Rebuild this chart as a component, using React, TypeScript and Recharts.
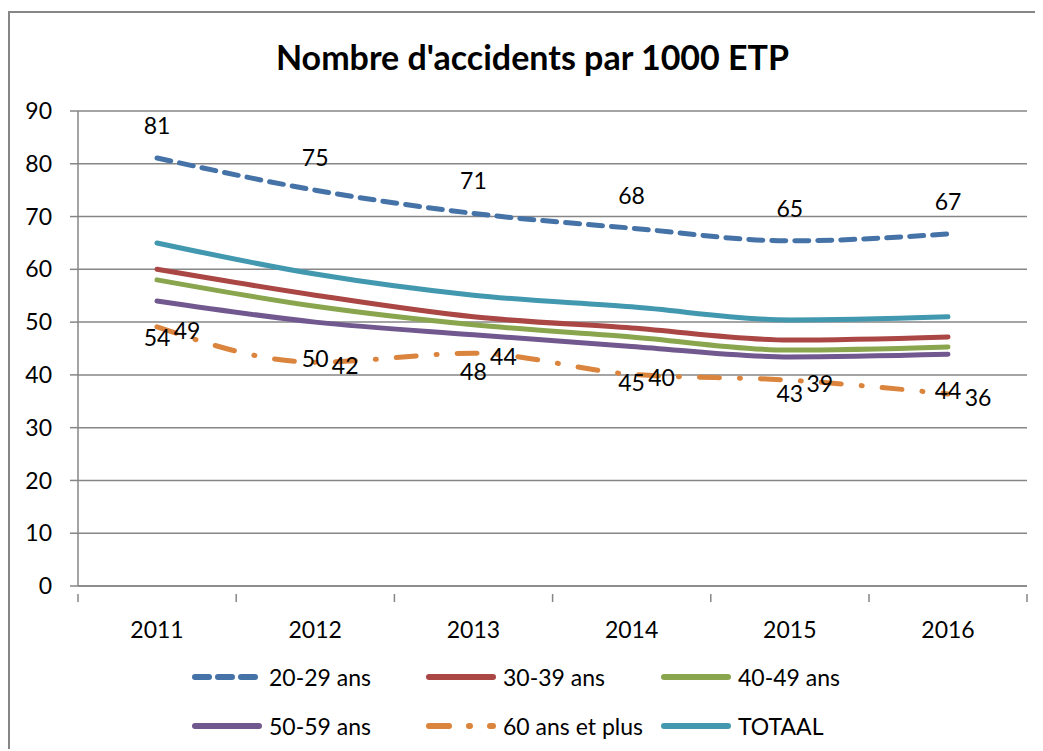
import React from "react";
import {
  LineChart,
  Line,
  XAxis,
  YAxis,
  CartesianGrid,
  LabelList,
} from "recharts";

const years = ["2011", "2012", "2013", "2014", "2015", "2016"];
const yTicks = [0, 10, 20, 30, 40, 50, 60, 70, 80, 90];

const ans2029 = [81.1, 75.0, 70.6, 67.8, 65.4, 66.7];
const ans3039 = [60.0, 55.1, 51.0, 48.9, 46.6, 47.2];
const ans4049 = [58.0, 53.0, 49.5, 47.2, 44.7, 45.3];
const ans5059 = [54.0, 50.0, 47.6, 45.4, 43.4, 43.9];
const ans60plus = [49.1, 42.4, 44.1, 40.1, 39.0, 36.4];
const totaal = [65.0, 59.1, 55.1, 52.9, 50.4, 51.0];

const series = [
  { key: "a2029", name: "20-29 ans", values: ans2029, color: "#4572A7", dash: "14 9", label: "top" },
  { key: "a3039", name: "30-39 ans", values: ans3039, color: "#AA4643", dash: undefined, label: null },
  { key: "a4049", name: "40-49 ans", values: ans4049, color: "#89A54E", dash: undefined, label: null },
  { key: "a5059", name: "50-59 ans", values: ans5059, color: "#71588F", dash: undefined, label: "bottom" },
  { key: "a60", name: "60 ans et plus", values: ans60plus, color: "#DB843D", dash: "20 20 1 20", label: "right" },
  { key: "tot", name: "TOTAAL", values: totaal, color: "#4198AF", dash: undefined, label: null },
];

const data = years.map((year, i) => {
  const row: Record<string, string | number> = { year };
  series.forEach((s) => {
    row[s.key] = s.values[i];
  });
  return row;
});

const FONT = "Lato, 'Open Sans', sans-serif";
const GRID = "#868686";
const BAND = 79;
const FS = 23;

const labelOffsets: Record<string, [number, number]> = {
  top: [0, -33],
  bottom: [0, 36],
  right: [30, 3],
};

const makeLabel = (pos: string) => (props: any) => {
  const { x, y, value } = props;
  const [dx, dy] = labelOffsets[pos];
  return (
    <text
      x={x + dx}
      y={y + dy}
      textAnchor="middle"
      dominantBaseline="central"
      fontFamily={FONT}
      fontSize={FS}
      fill="#000"
    >
      {Math.round(value)}
    </text>
  );
};

const YearTick = (props: any) => {
  const { x, y, payload, index } = props;
  return (
    <g>
      <line x1={x - BAND} y1={y} x2={x - BAND} y2={y + 8} stroke={GRID} strokeWidth={1.5} />
      {index === years.length - 1 && (
        <line x1={x + BAND} y1={y} x2={x + BAND} y2={y + 8} stroke={GRID} strokeWidth={1.5} />
      )}
      <text
        x={x}
        y={y + 35}
        textAnchor="middle"
        dominantBaseline="central"
        fontFamily={FONT}
        fontSize={FS}
        fill="#000"
      >
        {payload.value}
      </text>
    </g>
  );
};

const legendCols = [181, 415, 650];

export default function App() {
  return (
    <div style={{ paddingTop: 3 }}>
      <style>{`body{overflow:hidden}`}</style>
      <div
        style={{
          position: "relative",
          width: 1033,
          height: 736,
          borderTop: `2px solid ${GRID}`,
          borderLeft: `2px solid ${GRID}`,
          background: "#fff",
        }}
      >
        <div
          style={{
            position: "absolute",
            left: 0,
            width: 1045,
            top: 24,
            textAlign: "center",
            fontFamily: FONT,
            fontWeight: 700,
            fontSize: 34,
            lineHeight: "40px",
            color: "#000",
          }}
        >
          Nombre d'accidents par 1000 ETP
        </div>
        <LineChart
          width={1033}
          height={736}
          data={data}
          margin={{ top: 98, left: 8, right: 16, bottom: 123 }}
        >
          <CartesianGrid vertical={false} stroke={GRID} strokeWidth={1.5} />
          <XAxis
            dataKey="year"
            padding={{ left: BAND, right: BAND }}
            stroke={GRID}
            strokeWidth={1.5}
            tickLine={false}
            tick={<YearTick />}
            height={40}
            interval={0}
          />
          <YAxis
            domain={[0, 90]}
            ticks={yTicks}
            width={60}
            stroke={GRID}
            strokeWidth={1.5}
            tickSize={8}
            tickMargin={18}
            tick={{ fill: "#000", fontSize: FS, fontFamily: FONT }}
            interval={0}
          />
          {series.map((s) => (
            <Line
              key={s.key}
              type="monotone"
              dataKey={s.key}
              name={s.name}
              stroke={s.color}
              strokeWidth={5}
              strokeDasharray={s.dash}
              strokeLinecap="round"
              dot={false}
              isAnimationActive={false}
            >
              {s.label && <LabelList dataKey={s.key} content={makeLabel(s.label)} />}
            </Line>
          ))}
        </LineChart>
        {series.map((s, i) => {
          const row = Math.floor(i / 3);
          const col = i % 3;
          return (
            <div
              key={s.key}
              style={{
                position: "absolute",
                left: legendCols[col],
                top: 664 + row * 49 - 15,
                height: 30,
                display: "flex",
                alignItems: "center",
                fontFamily: FONT,
                fontSize: FS,
                color: "#000",
                whiteSpace: "nowrap",
              }}
            >
              <svg width={72} height={12} style={{ marginRight: 6 }}>
                <line
                  x1={4}
                  y1={6}
                  x2={68}
                  y2={6}
                  stroke={s.color}
                  strokeWidth={6}
                  strokeLinecap="round"
                  strokeDasharray={s.dash}
                />
              </svg>
              {s.name}
            </div>
          );
        })}
      </div>
    </div>
  );
}
